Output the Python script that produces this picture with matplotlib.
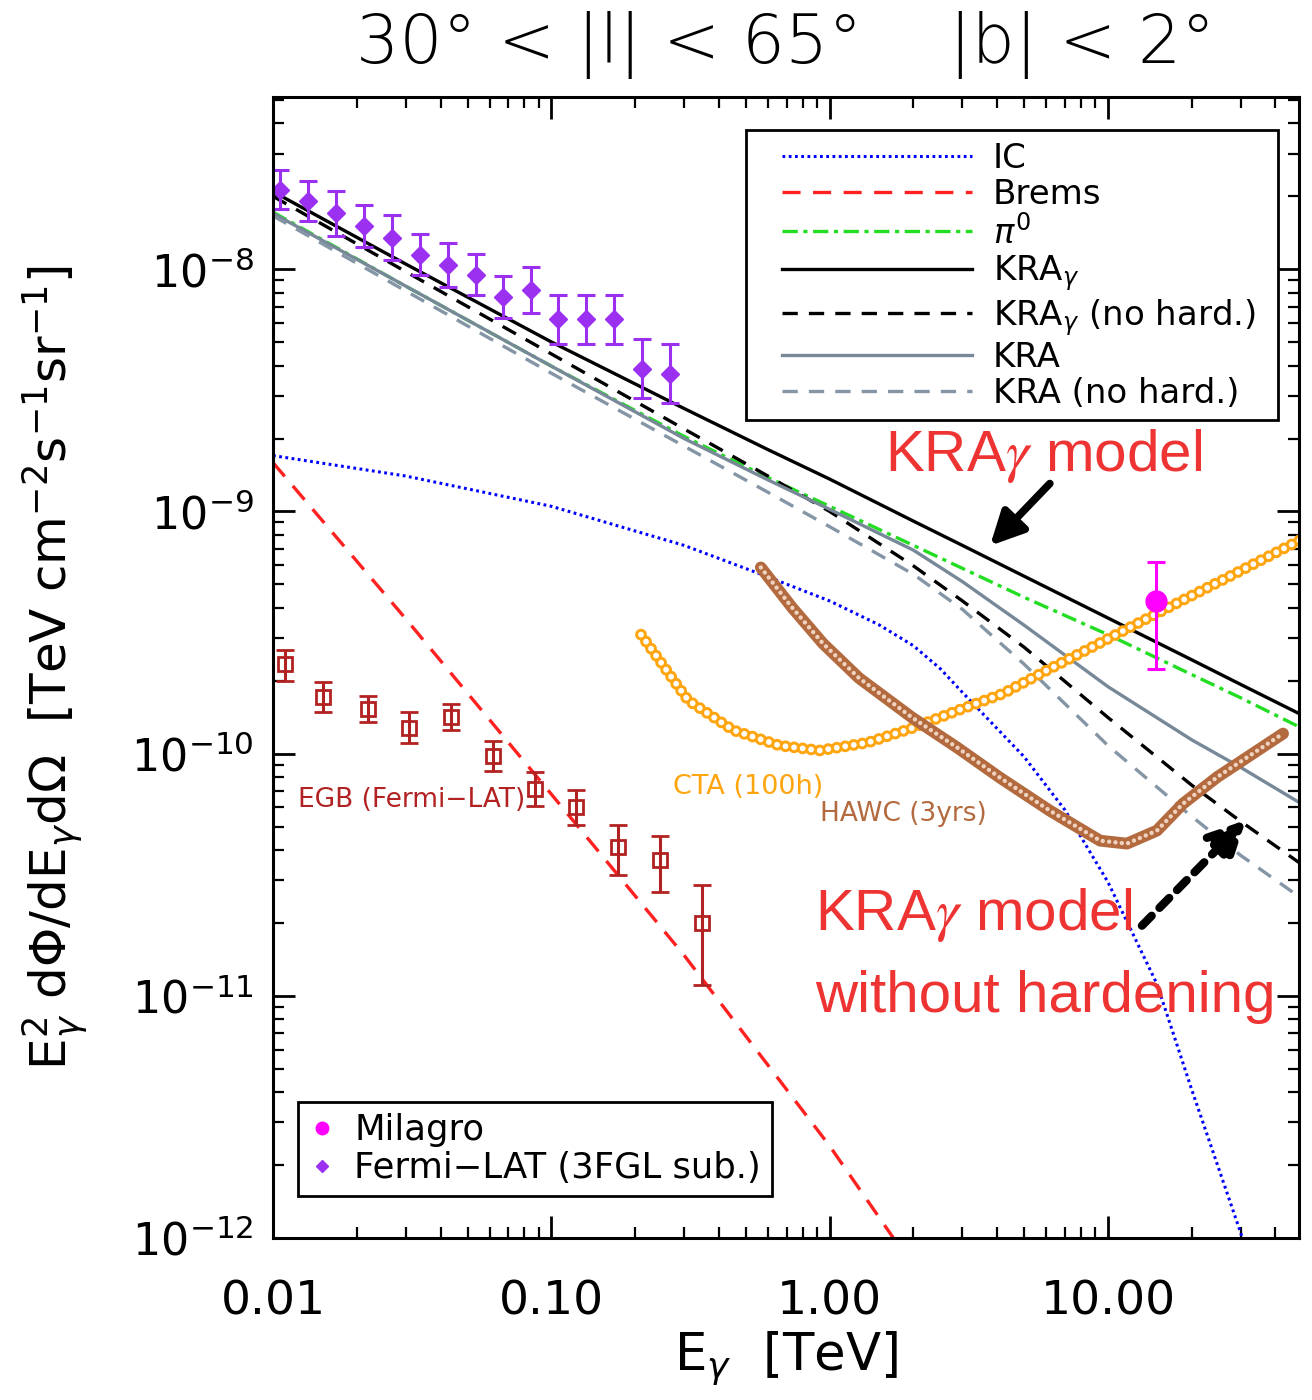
import numpy as np
import matplotlib.pyplot as plt
from matplotlib.lines import Line2D
from matplotlib.patches import Rectangle
from matplotlib.ticker import FuncFormatter, NullFormatter, LogLocator

plt.rcParams['font.family'] = ['DejaVu Sans']
plt.rcParams['mathtext.fontset'] = 'dejavusans'
plt.rcParams['lines.scale_dashes'] = False

# model curves: E [TeV] and E^2 dPhi/dE dOmega [TeV cm^-2 s^-1 sr^-1]
e_model = [0.01, 0.03, 0.1, 0.3, 0.6, 1.0, 2.0, 3.0, 5.0, 10.0, 20.0, 30.0, 50.0]
kra_gamma = [2.09e-8, 1.05e-8, 5.01e-9, 2.66e-9, 1.80e-9, 1.36e-9, 9.12e-10, 7.24e-10,
             5.40e-10, 3.63e-10, 2.44e-10, 1.93e-10, 1.44e-10]
kra_gamma_nohard = [2.0e-8, 9.77e-9, 4.47e-9, 2.19e-9, 1.40e-9, 1.0e-9, 5.96e-10, 4.27e-10,
                    2.75e-10, 1.41e-10, 7.41e-11, 5.25e-11, 3.47e-11]
kra = [1.70e-8, 8.51e-9, 3.98e-9, 2.0e-9, 1.35e-9, 1.02e-9, 6.92e-10, 5.13e-10,
       3.39e-10, 1.89e-10, 1.14e-10, 8.77e-11, 6.17e-11]
kra_nohard = [1.66e-8, 8.13e-9, 3.72e-9, 1.86e-9, 1.20e-9, 8.65e-10, 5.50e-10, 3.94e-10,
              2.34e-10, 1.08e-10, 5.50e-11, 3.80e-11, 2.51e-11]
pi0 = [1.72e-8, 8.51e-9, 3.98e-9, 2.04e-9, 1.38e-9, 1.05e-9, 7.24e-10, 5.82e-10,
       4.42e-10, 3.10e-10, 2.12e-10, 1.70e-10, 1.27e-10]

ic_e = [0.01, 0.03, 0.1, 0.3, 0.6, 1.0, 1.5, 2.0, 2.5, 3.0, 5.0, 7.0, 10.0, 15.0, 20.0, 30.0, 35.0]
ic = [1.70e-9, 1.40e-9, 1.05e-9, 7.24e-10, 5.37e-10, 4.27e-10, 3.41e-10, 2.79e-10, 2.24e-10,
      1.79e-10, 9.7e-11, 5.86e-11, 2.95e-11, 1.12e-11, 4.1e-12, 1.05e-12, 6.0e-13]

brems_e = [0.01, 0.03, 0.1, 0.3, 1.0, 2.0]
brems = [1.59e-9, 3.6e-10, 6.8e-11, 1.47e-11, 2.4e-12, 7.6e-13]

# sensitivity curves
cta_e = [0.21, 0.31, 0.45, 0.66, 0.92, 1.37, 2.0, 2.9, 4.2, 6.0, 8.7, 12.6, 18.2, 26.4, 50.0]
cta = [3.1e-10, 1.66e-10, 1.25e-10, 1.08e-10, 1.03e-10, 1.11e-10, 1.28e-10, 1.51e-10,
       1.77e-10, 2.2e-10, 2.74e-10, 3.42e-10, 4.25e-10, 5.28e-10, 7.7e-10]
hawc_e = [0.566, 0.733, 0.946, 1.276, 1.977, 2.871, 4.09, 6.19, 9.38, 11.7, 15.0, 18.6, 24.7, 42.6]
hawc = [5.87e-10, 4.01e-10, 2.85e-10, 2.05e-10, 1.41e-10, 1.06e-10, 7.96e-11, 5.81e-11,
        4.37e-11, 4.25e-11, 4.81e-11, 6.21e-11, 8.0e-11, 1.21e-10]

# data points
fermi_e = [0.0106, 0.0134, 0.0169, 0.0213, 0.0268, 0.0338, 0.0425, 0.0534, 0.0673, 0.0846,
           0.1058, 0.133, 0.168, 0.211, 0.266]
fermi = [2.13e-8, 1.91e-8, 1.70e-8, 1.51e-8, 1.35e-8, 1.15e-8, 1.04e-8, 9.5e-9, 7.7e-9, 8.2e-9,
         6.2e-9, 6.2e-9, 6.2e-9, 3.89e-9, 3.71e-9]
fermi_err_dex = [0.081, 0.083, 0.094, 0.086, 0.093, 0.083, 0.09, 0.085, 0.087, 0.094,
                 0.1, 0.1, 0.1, 0.12, 0.122]

egb_e = [0.011, 0.0151, 0.0219, 0.0309, 0.0436, 0.0615, 0.0873, 0.1227, 0.173, 0.246, 0.347]
egb = [2.35e-10, 1.71e-10, 1.53e-10, 1.28e-10, 1.42e-10, 9.75e-11, 7.15e-11, 6.0e-11,
       4.1e-11, 3.64e-11, 1.99e-11]
egb_lo_dex = [0.07, 0.062, 0.054, 0.064, 0.054, 0.062, 0.07, 0.072, 0.114, 0.131, 0.255]
egb_hi_dex = [0.055, 0.062, 0.054, 0.064, 0.054, 0.062, 0.07, 0.072, 0.093, 0.1, 0.158]

milagro_e = [14.9]
milagro = [4.25e-10]
milagro_lo = [2.24e-10]
milagro_hi = [6.2e-10]

fig = plt.figure(figsize=(13.12, 14), dpi=100)
ax = fig.add_axes([0.2081, 0.1157, 0.782, 0.815])
ax.set_xscale('log')
ax.set_yscale('log')

h_ic, = ax.plot(ic_e, ic, color='#0000ff', lw=2.2, ls=(0, (2, 2.5)), label='IC')
h_br, = ax.plot(brems_e, brems, color='#ff2020', lw=2.4, ls=(0, (13, 9)), label='Brems')
h_pi, = ax.plot(e_model, pi0, color='#22dd22', lw=2.4, ls=(0, (11, 4, 3, 4)), label=r'$\pi^0$')
h_kg, = ax.plot(e_model, kra_gamma, color='black', lw=2.4, label=r'KRA$_\gamma$')
h_kgn, = ax.plot(e_model, kra_gamma_nohard, color='black', lw=2.4, ls=(0, (11, 8)),
                 label=r'KRA$_\gamma$ (no hard.)')
h_k, = ax.plot(e_model, kra, color='#778899', lw=2.4, label='KRA')
h_kn, = ax.plot(e_model, kra_nohard, color='#8495a6', lw=2.4, ls=(0, (11, 8)), label='KRA (no hard.)')

# CTA: chain of open circles
ax.plot(cta_e, cta, color='#ffa510', lw=8.5, ls=(0, (0.01, 6.2)), dash_capstyle='round')
ax.plot(cta_e, cta, color='white', lw=4.2, ls=(0, (0.01, 6.2)), dash_capstyle='round')
# HAWC: dense open triangles
ax.plot(hawc_e, hawc, color='#b36a3e', lw=8.5, solid_capstyle='round', solid_joinstyle='round')
ax.plot(hawc_e, hawc, color='#efd2bf', lw=3.2, ls=(0, (0.01, 4.6)), dash_capstyle='round')

egb_arr = np.array(egb)
egb_err = [egb_arr * (1 - 10 ** -np.array(egb_lo_dex)), egb_arr * (10 ** np.array(egb_hi_dex) - 1)]
ax.errorbar(egb_e, egb, yerr=egb_err, fmt='s', ms=10, mfc='none', mec='#b22222', mew=2,
            ecolor='#b22222', elinewidth=2.2, capsize=6.5, capthick=2.2)

fermi_arr = np.array(fermi)
fd = np.array(fermi_err_dex)
fermi_err = [fermi_arr * (1 - 10 ** -fd), fermi_arr * (10 ** fd - 1)]
ax.errorbar(fermi_e, fermi, yerr=fermi_err, fmt='D', ms=9, color='#9b30f0',
            ecolor='#9b30f0', elinewidth=2.2, capsize=6.5, capthick=2.2)

m_arr = np.array(milagro)
ax.errorbar(milagro_e, milagro, yerr=[m_arr - np.array(milagro_lo), np.array(milagro_hi) - m_arr],
            fmt='o', ms=15, color='#ff00ff', ecolor='#ff00ff', elinewidth=2.2, capsize=6.5, capthick=2.2)

ax.set_xlim(0.01, 48.6)
ax.set_ylim(1e-12, 5.14e-8)

ax.xaxis.set_major_formatter(FuncFormatter(lambda v, p: f'{v:.2f}'))
ax.xaxis.set_minor_formatter(NullFormatter())
ax.yaxis.set_major_locator(LogLocator(base=10, numticks=10))
ax.yaxis.set_major_formatter(FuncFormatter(lambda v, p: r'$10^{%d}$' % int(round(np.log10(v)))))
ax.yaxis.set_minor_formatter(NullFormatter())
ax.tick_params(which='both', direction='in', top=True, right=True, width=2)
ax.tick_params(which='major', length=16)
ax.tick_params(which='minor', length=8, width=1.6, labelbottom=False, labelleft=False)
ax.tick_params(axis='x', which='major', labelsize=34, pad=30)
ax.tick_params(axis='y', which='major', labelsize=32, pad=14)
for s in ax.spines.values():
    s.set_linewidth(2.2)

ax.set_ylabel(r'E$_\gamma^2$ d$\Phi$/dE$_\gamma$d$\Omega$  [TeV cm$^{-2}$s$^{-1}$sr$^{-1}$]', fontsize=36)
ax.yaxis.set_label_coords(-0.178, 0.5)
ax.set_xlabel(r'E$_\gamma$  [TeV]', fontsize=37)
ax.xaxis.set_label_coords(0.5, -0.08)

fig.text(0.599, 0.968, '30° < |l| < 65°    |b| < 2°', fontsize=49, ha='center', va='center',
         fontweight='light')

# model legend, drawn inside its own box
ax.add_patch(Rectangle((0.461, 0.717), 0.5185, 0.254, transform=ax.transAxes, facecolor='white',
                       edgecolor='black', lw=2, zorder=4.5))
leg = ax.legend(handles=[h_ic, h_br, h_pi, h_kg, h_kgn, h_k, h_kn], loc='upper left',
                bbox_to_anchor=(0.496, 0.961), borderaxespad=0, frameon=False,
                fontsize=24.5, handlelength=5.6, handletextpad=0.6,
                labelspacing=0.1, borderpad=0)
ax.add_artist(leg)

h_mil = Line2D([], [], ls='none', marker='o', ms=9, color='#ff00ff')
h_fer = Line2D([], [], ls='none', marker='D', ms=6.5, color='#9b30f0')
leg2 = ax.legend(handles=[h_mil, h_fer], labels=['Milagro', 'Fermi−LAT (3FGL sub.)'],
                 loc='lower left', bbox_to_anchor=(0.024, 0.037), borderaxespad=0, fancybox=False,
                 edgecolor='black', framealpha=1, fontsize=25.5, handlelength=0.8,
                 handletextpad=0.5, labelspacing=0.12, borderpad=0.3)
leg2.get_frame().set_linewidth(2)

ax.text(0.39, 0.395, 'CTA (100h)', transform=ax.transAxes, fontsize=19.5, color='#ffa510', va='center')
ax.text(0.533, 0.372, 'HAWC (3yrs)', transform=ax.transAxes, fontsize=19, color='#b36a3e', va='center')
ax.text(0.024, 0.384, 'EGB (Fermi−LAT)', transform=ax.transAxes, fontsize=19, color='#b22222', va='center')

red = '#ee3333'
kw = dict(transform=ax.transAxes, fontsize=42, color=red, va='center',
          family=['Liberation Sans', 'DejaVu Sans'], math_fontfamily='stix')
ax.text(0.596, 0.685, r'KRA$\gamma$ model', **kw)
ax.text(0.528, 0.283, r'KRA$\gamma$ model', **kw)
ax.text(0.528, 0.211, 'without hardening', **kw)

ax.annotate('', xy=(0.697, 0.605), xytext=(0.759, 0.663), xycoords='axes fraction',
            arrowprops=dict(arrowstyle='-|>', color='black', lw=5.5, mutation_scale=50))
ax.annotate('', xy=(0.950, 0.368), xytext=(0.845, 0.272), xycoords='axes fraction',
            arrowprops=dict(arrowstyle='-|>', color='black', lw=6, ls=(0, (10, 8)), mutation_scale=55))

fig.savefig('out.png', dpi=100)
